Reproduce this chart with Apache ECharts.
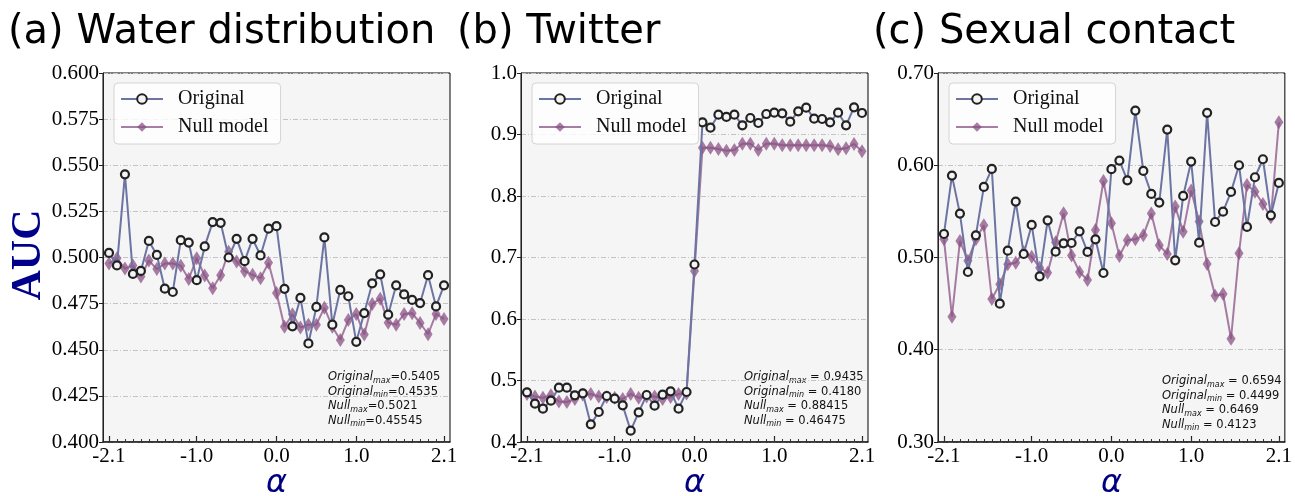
<!DOCTYPE html>
<html><head><meta charset="utf-8">
<script src="https://cdn.jsdelivr.net/npm/echarts@6/dist/echarts.min.js"></script>
<style>html,body{margin:0;padding:0;background:#fff}#c{width:1295px;height:496px}</style>
</head><body><div id="c"></div>
<script>
const alphas = [-2.1,-2.0,-1.9,-1.8,-1.7,-1.6,-1.5,-1.4,-1.3,-1.2,-1.1,-1.0,-0.9,-0.8,-0.7,-0.6,-0.5,-0.4,-0.3,-0.2,-0.1,0.0,
  0.1,0.2,0.3,0.4,0.5,0.6,0.7,0.8,0.9,1.0,1.1,1.2,1.3,1.4,1.5,1.6,1.7,1.8,1.9,2.0,2.1];
const xTickLabels = [-2.1, -1.0, 0.0, 1.0, 2.1];

const waterOriginal = [0.5025,0.4957,0.5451,0.4911,0.4927,0.5090,0.5014,0.4831,0.4813,0.5094,0.5081,0.4877,0.5060,0.5192,0.5188,0.5000,0.5101,0.4980,0.5101,0.5011,0.5156,0.5170,
  0.4830,0.4627,0.4781,0.4534,0.4732,0.5109,0.4636,0.4825,0.4790,0.4543,0.4699,0.4860,0.4909,0.4690,0.4849,0.4800,0.4770,0.4753,0.4904,0.4735,0.4849];
const waterNull = [0.4967,0.4996,0.4940,0.4957,0.4897,0.4984,0.4937,0.4967,0.4967,0.4955,0.4884,0.4996,0.4902,0.4833,0.4904,0.5031,0.4978,0.4926,0.4906,0.4888,0.4971,0.4808,
  0.4625,0.4692,0.4620,0.4636,0.4636,0.4728,0.4625,0.4553,0.4661,0.4694,0.4582,0.4748,0.4777,0.4647,0.4636,0.4694,0.4698,0.4645,0.4584,0.4694,0.4667];
const twitterOriginal = [0.4808,0.4623,0.4542,0.4672,0.4883,0.4883,0.4759,0.4791,0.4287,0.4488,0.4748,0.4705,0.4596,0.4184,0.4482,0.4764,0.4591,0.4770,0.4824,0.4542,0.4813,0.6886,
  0.9198,0.9111,0.9322,0.9285,0.9322,0.9149,0.9268,0.9187,0.9333,0.9355,0.9344,0.9209,0.9377,0.9436,0.9257,0.9252,0.9198,0.9355,0.9149,0.9442,0.9350];
const twitterNull = [0.478,0.474,0.472,0.476,0.466,0.465,0.470,0.477,0.478,0.474,0.473,0.472,0.470,0.478,0.472,0.474,0.474,0.470,0.473,0.478,0.479,0.678,
  0.8786,0.8786,0.8764,0.8737,0.8748,0.8851,0.8851,0.8748,0.8851,0.8851,0.8824,0.8824,0.8824,0.8824,0.8824,0.8824,0.8813,0.8759,0.8775,0.8846,0.8726];
const sexualOriginal = [0.5255,0.5888,0.5476,0.4843,0.5240,0.5765,0.5960,0.4499,0.5074,0.5606,0.5038,0.5353,0.4796,0.5403,0.5063,0.5154,0.5157,0.5284,0.5060,0.5197,0.4832,0.5957,
  0.6051,0.5837,0.6593,0.5939,0.5689,0.5595,0.6387,0.4969,0.5667,0.6040,0.5161,0.6568,0.5385,0.5497,0.5711,0.6000,0.5331,0.5870,0.6065,0.5457,0.5808];
const sexualNull = [0.5197,0.4358,0.5179,0.4966,0.5197,0.5349,0.4550,0.4709,0.4926,0.4944,0.5060,0.5009,0.4890,0.4835,0.5164,0.5479,0.5023,0.4843,0.4756,0.5298,0.5830,0.5370,
  0.5016,0.5186,0.5197,0.5240,0.5476,0.5132,0.5038,0.5552,0.5280,0.5725,0.5389,0.4929,0.4586,0.4604,0.4119,0.5045,0.5787,0.5714,0.5580,0.5436,0.6467];

const titles = ['(a) Water distribution', '(b) Twitter', '(c) Sexual contact'];
const seriesNames = ['Original', 'Null model'];
const statLines = [
  [['Original','max','=0.5405'],['Original','min','=0.4535'],['Null','max','=0.5021'],['Null','min','=0.45545']],
  [['Original','max',' = 0.9435'],['Original','min',' = 0.4180'],['Null','max',' = 0.88415'],['Null','min',' = 0.46475']],
  [['Original','max',' = 0.6594'],['Original','min',' = 0.4499'],['Null','max',' = 0.6469'],['Null','min',' = 0.4123']]
];

const panels = [
  {left:103, ymin:0.4, ymax:0.6, step:0.025, dec:3, orig:waterOriginal, nul:waterNull, titleX:8, statX:328, statY:370},
  {left:521, ymin:0.4, ymax:1.0, step:0.1, dec:1, orig:twitterOriginal, nul:twitterNull, titleX:457, statX:744, statY:370},
  {left:938, ymin:0.3, ymax:0.7, step:0.1, dec:2, orig:sexualOriginal, nul:sexualNull, titleX:873, statX:1162, statY:374}
];

const TOP = 73, W = 347, H = 369;
const serif = 'Liberation Serif';
const origLine = '#6b74a2', nullColor = 'rgba(138,82,132,0.75)';

const grid = [], xAxis = [], yAxis = [], series = [], legend = [], graphic = [];
panels.forEach((p, i) => {
  grid.push({left:p.left, top:TOP, width:W, height:H, show:true, backgroundColor:'#f5f5f5', borderColor:'#000', borderWidth:1, containLabel:false});
  xAxis.push({type:'value', gridIndex:i, min:-2.175, max:2.175, position:'bottom',
    axisLine:{show:true, onZero:false, lineStyle:{color:'#222', width:1.5}},
    axisTick:{show:true, inside:true, length:6, customValues:xTickLabels, lineStyle:{color:'#222', width:1.2}},
    axisLabel:{customValues:xTickLabels, formatter:v=>v.toFixed(1), fontFamily:serif, fontSize:21, color:'#000', margin:4},
    splitLine:{show:false}});
  xAxis.push({type:'value', gridIndex:i, min:-2.175, max:2.175, position:'bottom', offset:0,
    axisLine:{show:true, onZero:false, lineStyle:{color:'rgba(0,0,0,0)'}},
    axisTick:{show:true, inside:true, length:3, customValues:alphas, lineStyle:{color:'#333', width:1}},
    axisLabel:{show:false}, splitLine:{show:false}});
  yAxis.push({type:'value', gridIndex:i, min:p.ymin, max:p.ymax, interval:p.step,
    axisLine:{show:true, onZero:false, lineStyle:{color:'#222'}},
    axisTick:{show:true, inside:false, length:4, lineStyle:{color:'#222'}},
    axisLabel:{formatter:v=>v.toFixed(p.dec), fontFamily:serif, fontSize:21, color:'#000', margin:4},
    splitLine:{show:true, lineStyle:{color:'#c4c4c4', width:1, type:[5,2,1,2]}}});
  series.push({name:'Null model', type:'line', xAxisIndex:2*i, yAxisIndex:i,
    data:alphas.map((a,k)=>[a, p.nul[k]]), symbol:'diamond', symbolSize:[9,14],
    itemStyle:{color:nullColor, borderWidth:0}, lineStyle:{color:nullColor, width:2}, z:2, animation:false});
  series.push({name:'Original', type:'line', xAxisIndex:2*i, yAxisIndex:i,
    data:alphas.map((a,k)=>[a, p.orig[k]]), symbol:'circle', symbolSize:8,
    itemStyle:{color:'#f4f4f4', borderColor:'#222', borderWidth:2.2}, lineStyle:{color:origLine, width:2}, z:3, animation:false});
  legend.push({data:seriesNames, orient:'vertical', left:p.left+11, top:83, padding:[6,12,7,6],
    itemWidth:42, itemHeight:12, itemGap:8, backgroundColor:'rgba(255,255,255,0.8)', borderColor:'#d4d4d4', borderWidth:1, borderRadius:4,
    textStyle:{fontFamily:serif, fontSize:20, color:'#111', lineHeight:20, padding:[0,0,0,10]}});
  graphic.push({type:'text', left:p.titleX, top:13, style:{text:titles[i], font:'40px "DejaVu Sans"', fill:'#000'}});
  graphic.push({type:'text', x:p.left + W/2, y:484, style:{text:'α', font:'italic 32px "DejaVu Sans"', fill:'#000080', align:'center', verticalAlign:'middle'}});
  const txt = statLines[i].map(l => '{i|' + l[0] + '}{s|' + l[1] + '}{n|' + l[2] + '}').join('\n');
  graphic.push({type:'text', x:p.statX, y:p.statY, style:{text:txt, fill:'#111', font:'11.5px "DejaVu Sans"',
    rich:{i:{fontFamily:'DejaVu Sans', fontStyle:'italic', fontSize:11.5, lineHeight:14.5},
          s:{fontFamily:'DejaVu Sans', fontStyle:'italic', fontSize:8, lineHeight:8, verticalAlign:'bottom'},
          n:{fontFamily:'DejaVu Sans', fontSize:11.5, lineHeight:14.5}}}});
});
graphic.push({type:'text', x:29, y:255, rotation:Math.PI/2, style:{text:'AUC', font:'bold 42px "Liberation Serif"', fill:'#00008b', align:'center', verticalAlign:'middle'}});

const chart = echarts.init(document.getElementById('c'), null, {renderer:'canvas'});
chart.setOption({animation:false, backgroundColor:'#fff', grid, xAxis, yAxis, series, legend, graphic});
</script></body></html>
